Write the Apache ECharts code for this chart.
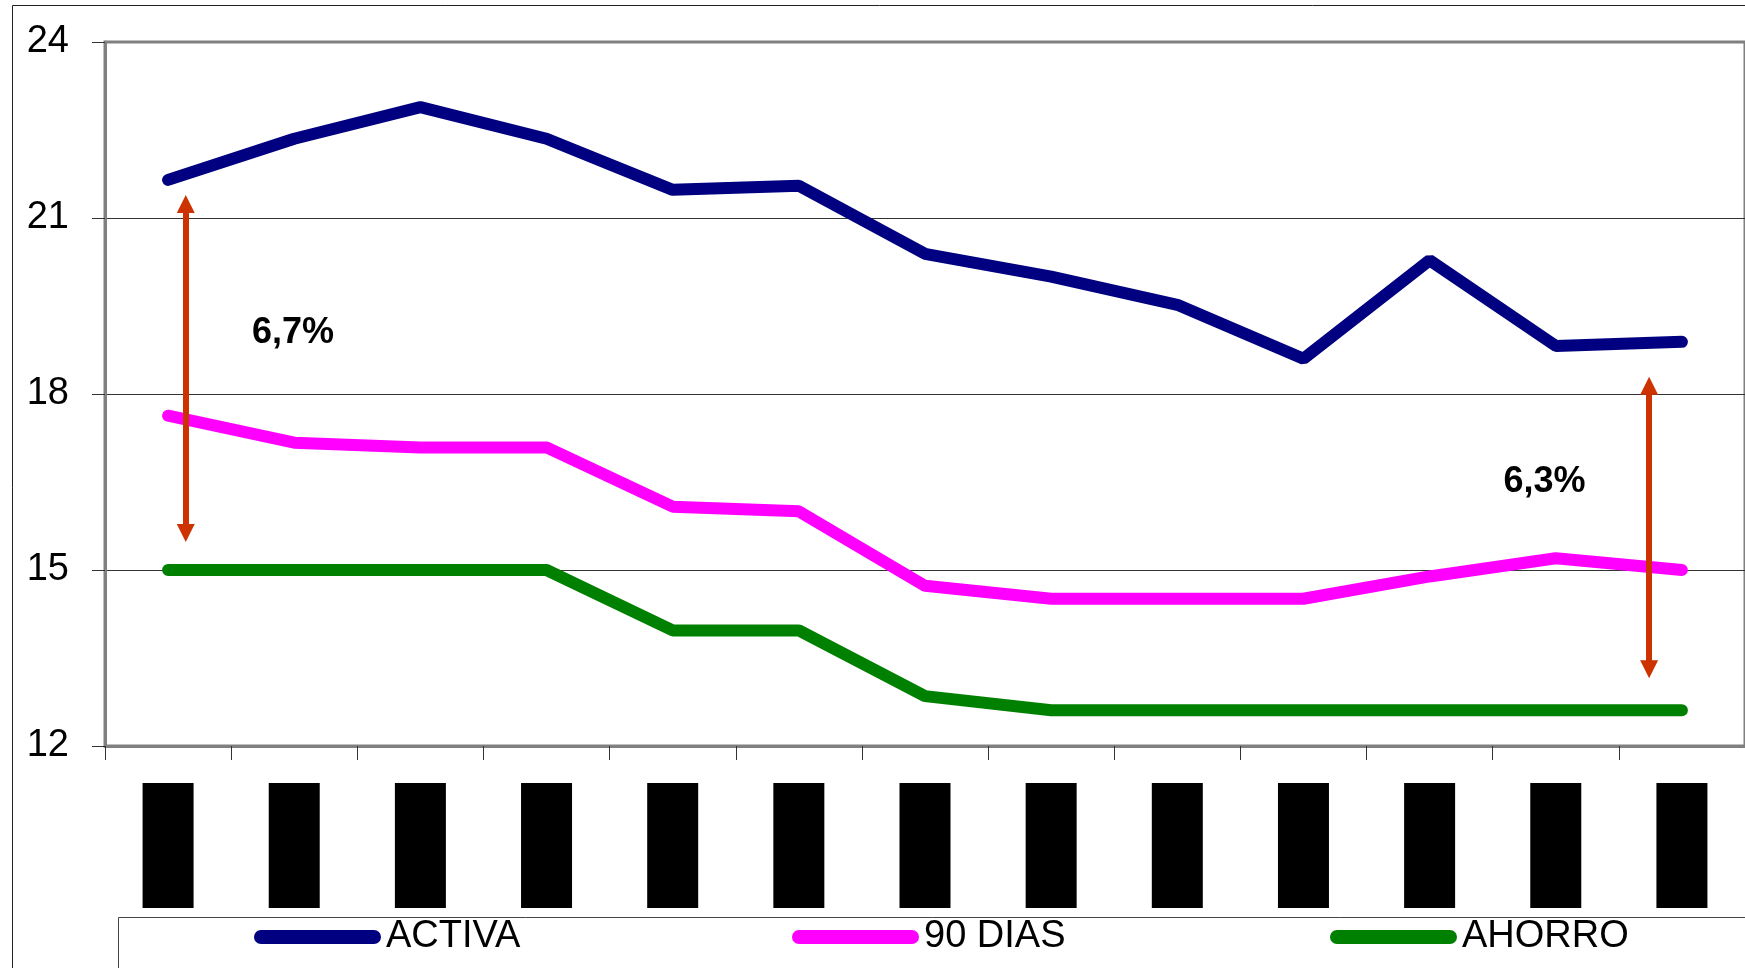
<!DOCTYPE html>
<html>
<head>
<meta charset="utf-8">
<script src="https://cdn.jsdelivr.net/npm/echarts@6/dist/echarts.min.js"></script>
<style>
  html, body { margin: 0; padding: 0; background: #fff; }
  #chart { width: 1745px; height: 968px; }
</style>
</head>
<body>
<div id="chart"></div>
<script>
// periodos (las etiquetas originales estan tapadas con bloques negros)
const periodos = ['P1', 'P2', 'P3', 'P4', 'P5', 'P6', 'P7', 'P8', 'P9', 'P10', 'P11', 'P12', 'P13'];

const activa  = [21.65, 22.35, 22.89, 22.35, 21.48, 21.55, 20.39, 20.0, 19.52, 18.6, 20.28, 18.82, 18.89];
const dias90  = [17.63, 17.17, 17.09, 17.09, 16.08, 16.0, 14.73, 14.51, 14.51, 14.51, 14.89, 15.2, 15.0];
const ahorro  = [15.0, 15.0, 15.0, 15.0, 13.97, 13.97, 12.85, 12.61, 12.61, 12.61, 12.61, 12.61, 12.61];

const yTicks = [12, 15, 18, 21, 24];

// flechas de diferencial: [x, y desde, y hasta] en unidades del grafico
const flechas = [
  [0.14, 21.24, 15.63],
  [11.74, 18.14, 13.31]
];
// etiquetas del diferencial: [x, y, texto]
const diferenciales = [
  [0.99, 19.04, '6,7%'],
  [10.91, 16.5, '6,3%']
];

const FONT = '"Liberation Sans", Arial, sans-serif';
const pill = 'path://M7,0 H121 A7,7 0 0 1 121,14 H7 A7,7 0 0 1 7,0 Z';

const chart = echarts.init(document.getElementById('chart'));

const lineSerie = (name, data, color) => ({
  name: name,
  type: 'line',
  data: data,
  symbol: 'none',
  z: 3,
  lineStyle: { color: color, width: 12, cap: 'round' },
  itemStyle: { color: color }
});

chart.setOption({
  animation: false,
  backgroundColor: '#fff',
  graphic: [{
    // marco del area del grafico
    type: 'rect',
    shape: { x: 12.5, y: 5.5, width: 2000, height: 2000 },
    style: { fill: 'none', stroke: '#222', lineWidth: 1 },
    silent: true
  }, {
    // caja de la leyenda
    type: 'rect',
    shape: { x: 118.5, y: 917.5, width: 2000, height: 200 },
    style: { fill: 'none', stroke: '#444', lineWidth: 1 },
    silent: true
  }],
  grid: {
    left: 105, right: -4, top: 42, bottom: 222,
    show: true, borderColor: '#808080', borderWidth: 3
  },
  legend: {
    data: ['ACTIVA', '90 DIAS', 'AHORRO'],
    left: 254, top: 918,
    padding: 0,
    itemWidth: 127, itemHeight: 14,
    itemGap: 136,
    icon: pill,
    selectedMode: false,
    textStyle: { fontFamily: FONT, fontSize: 38, color: '#000', width: 270, lineHeight: 38 }
  },
  xAxis: [{
    type: 'category',
    data: periodos,
    boundaryGap: true,
    axisLine: { lineStyle: { color: '#808080', width: 3 } },
    axisTick: { show: true, length: 14, lineStyle: { color: '#333', width: 1 } },
    axisLabel: {
      interval: 0,
      margin: 37,
      color: '#000',
      fontSize: 12,
      backgroundColor: '#000',
      width: 51,
      height: 125,
      align: 'center'
    }
  }, {
    type: 'value',
    min: -0.5, max: 12.5,
    show: false
  }],
  yAxis: {
    type: 'value',
    min: 12, max: 24, interval: 3,
    axisLine: { show: true, onZero: false, lineStyle: { color: '#808080', width: 3 } },
    axisTick: { show: true, length: 13, lineStyle: { color: '#333', width: 1 } },
    axisLabel: {
      margin: 36,
      fontFamily: FONT, fontSize: 38, color: '#000',
      formatter: v => yTicks.includes(v) ? String(v) : ''
    },
    splitLine: {
      lineStyle: { color: ['#808080', '#333', '#333', '#333', '#808080'], width: 1 }
    }
  },
  series: [
    lineSerie('ACTIVA', activa, '#000080'),
    lineSerie('90 DIAS', dias90, '#FF00FF'),
    lineSerie('AHORRO', ahorro, '#008000'),
    {
      name: 'diferencial',
      type: 'scatter',
      xAxisIndex: 1,
      z: 5,
      symbolSize: 1,
      itemStyle: { color: '#fff', opacity: 1 },
      data: diferenciales.map(d => ({ value: [d[0], d[1]], name: d[2] })),
      label: {
        show: true,
        position: 'inside',
        formatter: p => p.name,
        fontFamily: FONT, fontSize: 36, fontWeight: 'bold',
        color: '#000', opacity: 1, textBorderWidth: 0
      },
      markLine: {
        silent: true,
        symbol: ['triangle', 'triangle'],
        symbolSize: 18,
        label: { show: false },
        lineStyle: { color: '#CC3300', width: 6, type: 'solid' },
        itemStyle: { color: '#CC3300' },
        data: flechas.map(f => [{ coord: [f[0], f[1]] }, { coord: [f[0], f[2]] }])
      }
    }
  ]
});
</script>
</body>
</html>
